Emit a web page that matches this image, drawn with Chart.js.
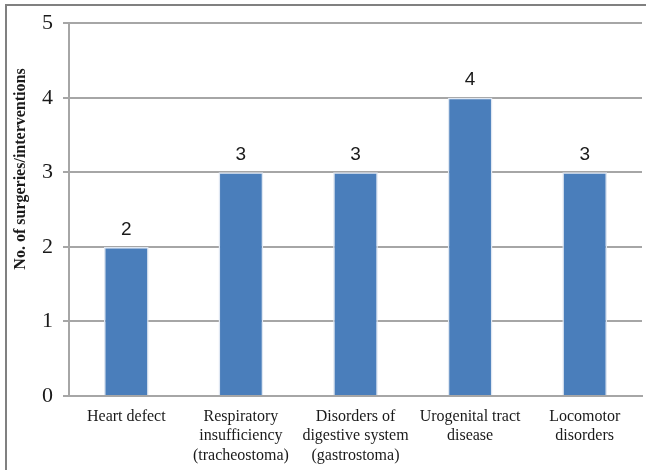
<!DOCTYPE html>
<html>
<head>
<meta charset="utf-8">
<script src="https://cdn.jsdelivr.net/npm/chart.js@4/dist/chart.umd.min.js"></script>
<style>
  html, body { margin: 0; padding: 0; background: #ffffff; }
  #wrap { width: 646px; height: 470px; position: relative; }
</style>
</head>
<body>
<div id="wrap"><canvas id="c" width="646" height="470"></canvas></div>
<script>
// Surgeries / interventions by condition group
const categories = [
  ["Heart defect"],
  ["Respiratory", "insufficiency", "(tracheostoma)"],
  ["Disorders of", "digestive system", "(gastrostoma)"],
  ["Urogenital tract", "disease"],
  ["Locomotor", "disorders"]
];
const surgeries = [2, 3, 3, 4, 3];
const yTicks = [0, 1, 2, 3, 4, 5];
const yTitle = "No. of surgeries/interventions";

const serif = "'Liberation Serif', 'Times New Roman', serif";
const sans = "'Liberation Sans', Arial, sans-serif";

// Frame around the figure (top and left edges)
const framePlugin = {
  id: 'frame',
  beforeDraw(chart) {
    const ctx = chart.ctx;
    ctx.save();
    ctx.fillStyle = '#ffffff';
    ctx.fillRect(0, 0, chart.width, chart.height);
    ctx.strokeStyle = '#808080';
    ctx.lineWidth = 2;
    ctx.beginPath();
    ctx.moveTo(6, chart.height);
    ctx.lineTo(6, 5);
    ctx.lineTo(chart.width, 5);
    ctx.stroke();
    ctx.restore();
  }
};

// Value labels above each bar and the rotated y-axis title
const labelPlugin = {
  id: 'valueLabels',
  afterDatasetsDraw(chart) {
    const ctx = chart.ctx;
    const meta = chart.getDatasetMeta(0);
    ctx.save();
    ctx.fillStyle = '#1a1a1a';
    ctx.font = '19px ' + sans;
    ctx.textAlign = 'center';
    ctx.textBaseline = 'bottom';
    meta.data.forEach((bar, i) => {
      ctx.fillText(String(chart.data.datasets[0].data[i]), bar.x, bar.y - 8);
    });
    ctx.translate(21, 169);
    ctx.rotate(-Math.PI / 2);
    ctx.font = 'bold 16px ' + serif;
    ctx.textBaseline = 'middle';
    ctx.fillText(yTitle, 0, 0);
    ctx.restore();
  }
};

new Chart(document.getElementById('c'), {
  type: 'bar',
  data: {
    labels: categories,
    datasets: [{
      data: surgeries,
      backgroundColor: '#4a7ebb',
      borderColor: '#dfe7f2',
      borderWidth: 1.5,
      borderSkipped: 'bottom',
      categoryPercentage: 1.0,
      barPercentage: 0.39
    }]
  },
  options: {
    responsive: false,
    animation: false,
    devicePixelRatio: 1,
    layout: { padding: { top: 22, right: 4, left: 10, bottom: 0 } },
    plugins: {
      legend: { display: false },
      tooltip: { enabled: false }
    },
    scales: {
      x: {
        grid: { display: false, drawTicks: false },
        border: { display: true, color: '#a6a6a6', width: 2 },
        ticks: {
          color: '#1a1a1a',
          font: { family: serif, size: 16, lineHeight: 1.22 },
          padding: 11,
          maxRotation: 0,
          autoSkip: false
        },
        afterFit(scale) { scale.height = 74; }
      },
      y: {
        min: 0,
        max: 5,
        afterBuildTicks(scale) { scale.ticks = yTicks.map(v => ({ value: v })); },
        grid: { color: '#a6a6a6', lineWidth: 2, tickLength: 6 },
        border: { display: true, color: '#a6a6a6', width: 2 },
        ticks: {
          color: '#1a1a1a',
          font: { family: serif, size: 22 },
          padding: 10
        },
        afterFit(scale) { scale.width = 59; }
      }
    }
  },
  plugins: [framePlugin, labelPlugin]
});
</script>
</body>
</html>
